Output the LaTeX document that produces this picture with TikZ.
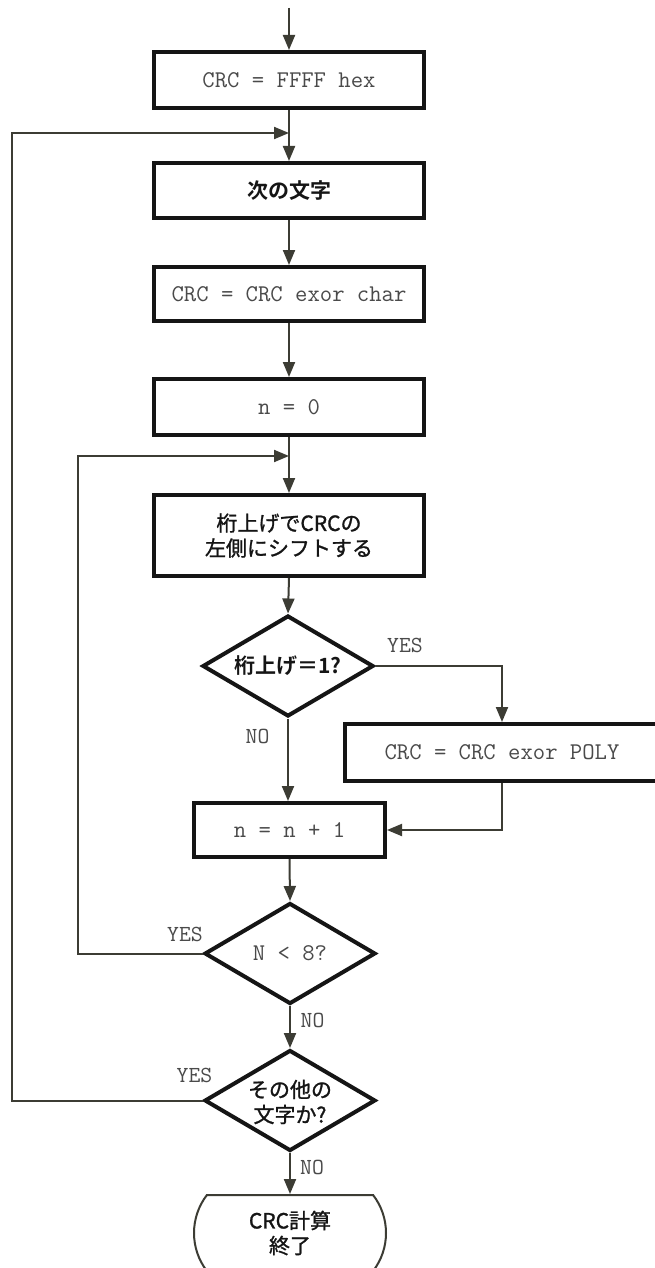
\documentclass[tikz,border=0pt]{standalone}
\usepackage{fontspec}
\newfontfamily\cjk[FakeBold=1.2]{Noto Sans CJK JP}
\newfontfamily\cjkb{Noto Sans CJK JP Bold}
\usetikzlibrary{arrows.meta,shapes.geometric,shapes.misc}
\definecolor{linec}{HTML}{3C3C34}
\definecolor{boxc}{HTML}{151515}
\definecolor{txtc}{HTML}{4A4A4A}
\begin{document}
\begin{tikzpicture}[x=1pt,y=-1pt,
  box/.style={draw=boxc,line width=4pt,minimum width=270pt,inner sep=0pt,fill=white},
  dia/.style={diamond,draw=boxc,line width=4pt,minimum width=171pt,minimum height=101pt,inner sep=0pt,fill=white},
  mono/.style={font=\fontsize{24}{28}\selectfont\ttfamily,text=txtc},
  lbl/.style={font=\fontsize{23}{27}\selectfont\ttfamily,text=txtc,inner sep=0pt},
  jp/.style={font=\fontsize{21}{25}\selectfont\cjk,text=boxc,align=center},
  jpb/.style={font=\fontsize{21}{25}\selectfont\cjkb,text=boxc,align=center},
  conn/.style={draw=linec,line width=2pt,-{Triangle[length=15pt,width=12pt]}},
  plain/.style={draw=linec,line width=2pt}]
\useasboundingbox (0,0) rectangle (655,1268);
\clip (0,0) rectangle (655,1268);
\fill[white] (0,0) rectangle (655,1268);
% nodes
\node[box,minimum height=56pt,mono] (b1) at (289,80) {CRC = FFFF hex};
\node[box,minimum height=55pt,jpb] (b2) at (289,190.5) {次の文字};
\node[box,minimum height=54pt,mono] (b3) at (289,294) {CRC = CRC exor char};
\node[box,minimum height=56pt,mono] (b4) at (289,407) {n = 0};
\node[box,minimum height=81pt,jp] (b5) at (289,535.5) {桁上げでCRCの\\左側にシフトする};
\node[dia] (d1) at (288,666) {};
\node[jpb] (d1t) at (d1.center) {桁上げ＝1?};
\node[box,minimum width=314pt,minimum height=57pt,mono] (b6) at (502,752.5) {CRC = CRC exor POLY};
\node[box,minimum width=191pt,minimum height=54pt,mono] (b7) at (289.5,830) {n = n + 1};
\node[dia] (d2) at (290,953.5) {};
\node[mono] (d2t) at (d2.center) {N < 8?};
\node[dia] (d3) at (290,1100.5) {};
\node[jp] (d3t) at (290,1102) {その他の\\文字か?};
\node[rounded rectangle,rounded rectangle arc length=75,draw=linec,line width=2pt,minimum width=192pt,minimum height=76pt,inner sep=0pt,jp] (t) at (290,1233) {CRC計算\\終了};
% coordinates
\coordinate (start) at (289,8);
\coordinate (j1) at (289,133);
\coordinate (j2) at (289,456);
% connectors
\draw[conn] (start) -- (b1.north);
\draw[conn] (b1.south) -- (b2.north);
\draw[conn] (b2.south) -- (b3.north);
\draw[conn] (b3.south) -- (b4.north);
\draw[conn] (b4.south) -- (b5.north);
\draw[conn] (b5.south) -- (d1.north);
\draw[conn] (d1.east) -| (b6.north);
\draw[conn] (d1.south) -- (d1.south |- b7.north);
\draw[conn] (b6.south) |- (b7.east);
\draw[conn] (b7.south) -- (d2.north);
\draw[conn] (d2.south) -- (d3.north);
\draw[conn] (d3.south) -- (t.north);
\draw[conn] (d2.west) -- (78,953.5) -- (78,456) -- (j2);
\draw[conn] (d3.west) -- (12,1100.5) -- (12,133) -- (j1);
% labels
\node[lbl] (y1) at (405,645) {YES};
\node[lbl] (n1) at (257.5,736) {NO};
\node[lbl] (y2) at (185,934) {YES};
\node[lbl] (n2) at (312.5,1020) {NO};
\node[lbl] (y3) at (194.5,1075) {YES};
\node[lbl] (n3) at (312,1167) {NO};
\end{tikzpicture}
\end{document}
